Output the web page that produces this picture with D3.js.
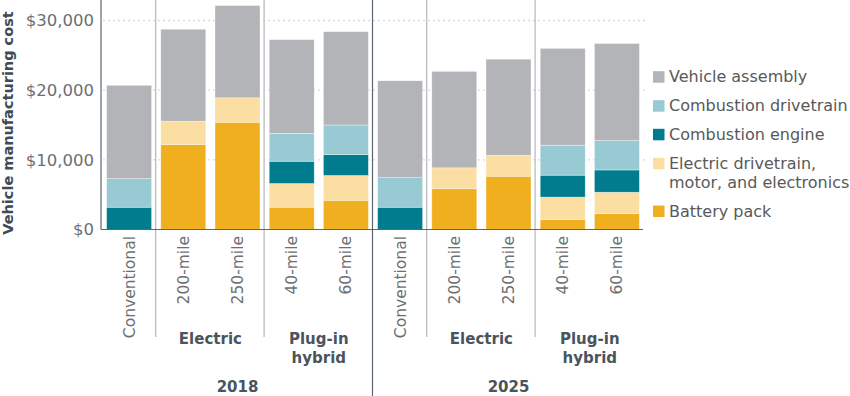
<!DOCTYPE html>
<html>
<head>
<meta charset="utf-8">
<script src="https://cdn.jsdelivr.net/npm/d3@7"></script>
<style>
  body { margin: 0; background: #fff; }
  svg text { font-family: "DejaVu Sans", sans-serif; }
</style>
</head>
<body>
<svg id="chart" width="850" height="396"></svg>
<script>
// categories, left to right
const years = ['2018', '2025'];
const vehicles = ['Conventional', '200-mile', '250-mile', '40-mile', '60-mile'];
const groups = [
    {name: ['Electric'], from: 1, to: 2},
    {name: ['Plug-in', 'hybrid'], from: 3, to: 4}
];
// stack order, bottom to top
const components = ['Battery pack', 'Electric drivetrain, motor, and electronics', 'Combustion engine', 'Combustion drivetrain', 'Vehicle assembly'];
const colors = ['#efaf1f', '#fbdea2', '#007c8e', '#98cad3', '#b2b4b7'];

// values in $, one per bar (2018 x5 then 2025 x5)
const battery    = [0, 12200, 15400, 3200, 4200,   0, 5850, 7650, 1450, 2300];
const elecDrive  = [0, 3350, 3500, 3400, 3550,     0, 3000, 3000, 3200, 3050];
const engine     = [3200, 0, 0, 3200, 3000,        3200, 0, 0, 3150, 3200];
const combDrive  = [4100, 0, 0, 4000, 4250,        4250, 0, 0, 4300, 4200];
const assembly   = [13400, 13200, 13250, 13450, 13400, 13900, 13850, 13800, 13900, 13950];

const yTicks = [0, 10000, 20000, 30000];

const rows = [];
years.forEach((yr, i) => vehicles.forEach((v, j) => {
    const k = i * vehicles.length + j;
    rows.push({
        key: yr + '|' + v, year: yr, vehicle: v,
        'Battery pack': battery[k],
        'Electric drivetrain, motor, and electronics': elecDrive[k],
        'Combustion engine': engine[k],
        'Combustion drivetrain': combDrive[k],
        'Vehicle assembly': assembly[k]
    });
}));

const svg = d3.select('#chart');
const plotTop = 0, plotBottom = 229.5, plotLeft = 101;

const x = d3.scaleBand().domain(rows.map(d => d.key)).range([102, 644]).paddingInner(0.17).paddingOuter(0.085);
const y = d3.scaleLinear().domain([0, 30000]).range([plotBottom, 20.5]);
const color = d3.scaleOrdinal(components, colors);
const stack = d3.stack().keys(components)(rows);
const step = x.step();
const gapX = i => x(rows[i].key) - step * 0.085 - 0.5;

// gridlines
svg.append('g')
    .selectAll('line')
    .data(yTicks.filter(t => t > 0))
    .join('line')
    .attr('x1', plotLeft + 2).attr('x2', 645)
    .attr('y1', d => y(d)).attr('y2', d => y(d))
    .attr('stroke', '#d9dadb').attr('stroke-width', 1.3)
    .attr('stroke-dasharray', '2,3');

// separators between vehicle types
const sepIdx = [];
years.forEach((yr, i) => [1, 3].forEach(j => sepIdx.push(i * vehicles.length + j)));
svg.append('g')
    .selectAll('line')
    .data(sepIdx)
    .join('line')
    .attr('x1', d => gapX(d)).attr('x2', d => gapX(d))
    .attr('y1', plotTop).attr('y2', 337)
    .attr('stroke', '#b4b6b9').attr('stroke-width', 1.2);

// year separator
svg.append('line')
    .attr('x1', gapX(5)).attr('x2', gapX(5)).attr('y1', plotTop).attr('y2', 396)
    .attr('stroke', '#5b6670').attr('stroke-width', 1.2);

// bars
svg.append('g')
    .selectAll('g')
    .data(stack)
    .join('g')
    .attr('fill', d => color(d.key))
    .selectAll('rect')
    .data(d => d.filter(s => s[1] > s[0]))
    .join('rect')
    .attr('x', d => x(d.data.key))
    .attr('width', x.bandwidth())
    .attr('y', d => y(d[1]))
    .attr('height', d => y(d[0]) - y(d[1]))
    .attr('stroke', '#fff').attr('stroke-width', 0.6).attr('stroke-opacity', 0.6);

// axis lines
svg.append('line').attr('x1', plotLeft).attr('x2', plotLeft).attr('y1', plotTop).attr('y2', plotBottom)
    .attr('stroke', '#5b6670').attr('stroke-width', 1.2);
svg.append('line').attr('x1', plotLeft).attr('x2', 643).attr('y1', plotBottom).attr('y2', plotBottom)
    .attr('stroke', '#5b6670').attr('stroke-width', 1.2);

// y tick labels
svg.append('g')
    .selectAll('text')
    .data(yTicks)
    .join('text')
    .attr('x', 94).attr('y', d => y(d))
    .attr('dy', '0.36em')
    .attr('text-anchor', 'end')
    .attr('fill', '#6d6f72')
    .attr('font-size', 16.5)
    .text(d => d3.format('$,')(d));

// y title
svg.append('text')
    .attr('transform', 'translate(13,123) rotate(-90)')
    .attr('text-anchor', 'middle')
    .attr('font-family', '"Open Sans", sans-serif')
    .attr('font-weight', 700)
    .attr('font-size', 14.5)
    .attr('fill', '#3f4b55')
    .text('Vehicle manufacturing cost');

// x tick labels (rotated)
svg.append('g')
    .selectAll('text')
    .data(rows)
    .join('text')
    .attr('transform', d => `translate(${x(d.key) + x.bandwidth() / 2},236) rotate(-90)`)
    .attr('dy', '0.36em')
    .attr('text-anchor', 'end')
    .attr('fill', '#6d6f72')
    .attr('font-size', 15.5)
    .text(d => d.vehicle);

// group labels
years.forEach((yr, i) => {
    groups.forEach(g => {
        const a = rows[i * vehicles.length + g.from].key, b = rows[i * vehicles.length + g.to].key;
        const cx = (x(a) + x(b) + x.bandwidth()) / 2;
        svg.append('text')
            .attr('x', cx).attr('y', 339)
            .attr('text-anchor', 'middle')
            .attr('font-weight', 700).attr('font-size', 15)
            .attr('fill', '#4a545c')
            .selectAll('tspan')
            .data(g.name)
            .join('tspan')
            .attr('x', cx)
            .attr('dy', (d, k) => k === 0 ? '0.36em' : 19)
            .text(d => d);
    });
    const first = rows[i * vehicles.length].key, last = rows[i * vehicles.length + 4].key;
    svg.append('text')
        .attr('x', (x(first) + x(last) + x.bandwidth()) / 2).attr('y', 387)
        .attr('dy', '0.36em')
        .attr('text-anchor', 'middle')
        .attr('font-weight', 700).attr('font-size', 15)
        .attr('fill', '#4a545c')
        .text(yr);
});

// legend
const legendRows = [
    {key: 'Vehicle assembly', lines: ['Vehicle assembly'], y: 76.7},
    {key: 'Combustion drivetrain', lines: ['Combustion drivetrain'], y: 105.7},
    {key: 'Combustion engine', lines: ['Combustion engine'], y: 134.3},
    {key: 'Electric drivetrain, motor, and electronics', lines: ['Electric drivetrain,', 'motor, and electronics'], y: 163.3},
    {key: 'Battery pack', lines: ['Battery pack'], y: 211}
];
const legend = svg.append('g')
    .selectAll('g')
    .data(legendRows)
    .join('g')
    .attr('transform', d => `translate(653,${d.y})`);
legend.append('rect')
    .attr('x', 0).attr('y', -5.5).attr('width', 11.5).attr('height', 11.5)
    .attr('fill', d => color(d.key));
legend.append('text')
    .attr('x', 16)
    .attr('fill', '#58595b')
    .attr('font-size', 16)
    .selectAll('tspan')
    .data(d => d.lines)
    .join('tspan')
    .attr('x', 16)
    .attr('dy', (d, k) => k === 0 ? '0.36em' : 19.4)
    .text(d => d);
</script>
</body>
</html>
